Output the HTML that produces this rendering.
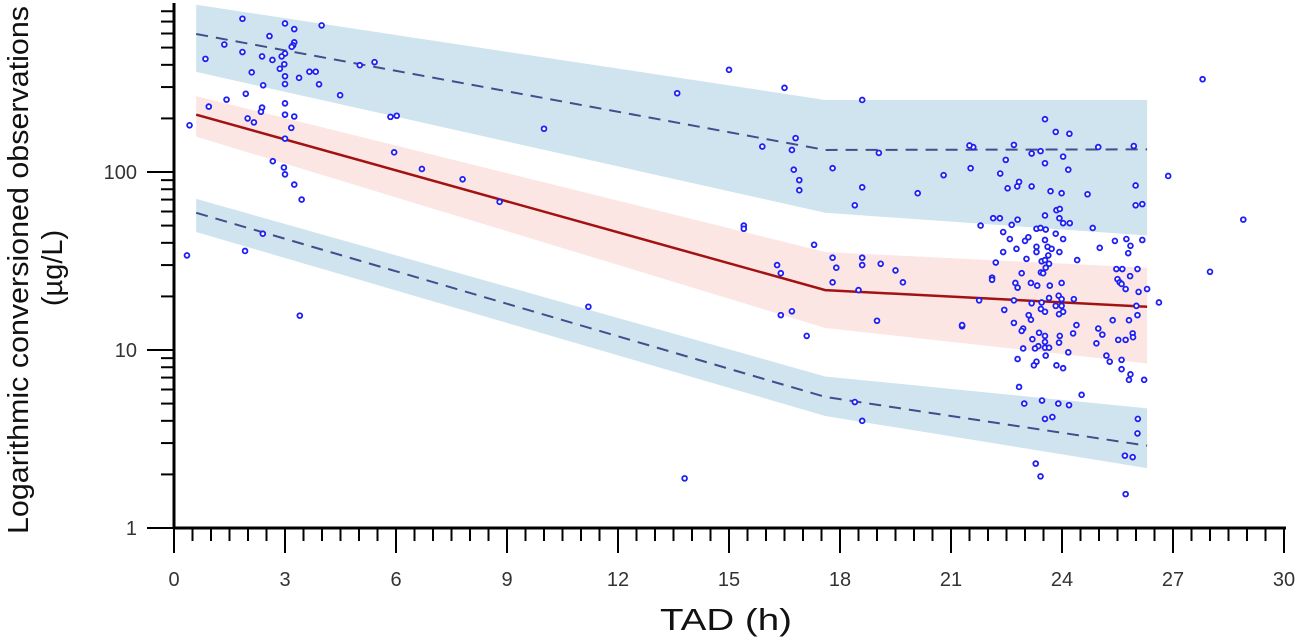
<!DOCTYPE html>
<html><head><meta charset="utf-8"><style>
html,body{margin:0;padding:0;background:#fff;}
svg{display:block;font-family:"Liberation Sans",sans-serif;}
</style></head><body>
<svg id="chart" width="1301" height="640"></svg>
<script>
const knotTimes=[0.6,17.6,26.3];
const upperPiHi=[870,254,254];
const upperPiMid=[596,133,134];
const upperPiLo=[365,59,44];
const medHi=[267,35.5,29];
const medMid=[210,21.7,17.5];
const medLo=[158,13.3,8.4];
const lowerPiHi=[70.6,7.1,4.7];
const lowerPiMid=[59,5.45,2.9];
const lowerPiLo=[46,4.26,2.17];
const xTicks=[0,3,6,9,12,15,18,21,24,27,30];
const yTicks=[1,10,100];
const obsTime=[23.54,23.83,24.2,21.6,22.7,23.42,24.03,24.98,25.94,22.48,23.18,23.54,24.17,21.53,22.33,22.84,22.79,22.53,23.18,23.69,23.99,24.69,25.99,25.99,26.17,23.85,23.94,22.14,22.32,22.8,23.54,23.93,24.03,24.21,22.64,24.83,23.31,23.42,23.56,22.41,23.83,23.09,23,23.54,24.03,22.59,25.43,25.74,26.17,25.85,23.31,23.61,23.72,22.77,25.02,22.41,23.31,23.93,25.79,23.63,23.45,23.54,23.04,22.21,24.41,23.65,23.56,23.43,23.49,25.47,25.63,26.04,22.91,22.11,22.11,25.5,25.84,25.56,22.74,23.16,23.99,25.61,23.33,23.67,22.8,25.72,26.07,26.3,23.91,23.65,21.76,22.7,23.99,24.32,23.18,23.45,23.83,23.99,26.01,22.44,23.43,23.54,24.03,23.92,26.04,23.1,23.16,21.3,22.7,25.37,25.81,24.39,22.95,22.91,23.38,24.98,25.09,24.3,25.91,23.54,23.2,23.94,23.92,23.54,25.52,25.72,25.92,24.93,23.36,23.27,22.95,23.54,23.65,24.17,23.56,25.2,22.8,25.29,25.61,23.31,23.24,23.85,24.03,25.61,25.85,25.81,26.22,22.84,24.53,22.98,23.46,23.9,24.19,23.54,23.74,26.05,26.04,25.7,25.91,23.29,23.42,25.72,26.87,26.62,
1.85,3.0,3.25,3.99,2.58,1.36,3.25,3.22,3.18,1.85,2.38,3.0,2.91,2.66,0.85,2.98,2.86,2.1,3.66,3.83,3.0,3.38,3.0,2.41,3.92,4.49,1.94,1.42,0.94,2.38,2.35,3.0,3.0,3.25,1.99,2.16,0.42,3.17,3.0,2.67,2.97,3.0,3.25,3.45,5.02,5.42,5.85,6.02,5.95,0.35,2.4,1.92,3.4,
6.7,7.8,8.8,10.0,11.2,13.6,13.8,15.0,15.9,15.4,15.4,16.5,16.3,16.4,16.4,16.7,16.8,16.7,16.75,16.9,16.9,17.1,17.3,17.8,17.8,17.9,17.8,18.6,18.6,18.4,18.6,18.6,18.5,18.4,18.6,19.0,19.05,19.1,19.5,19.7,20.1,20.8,21.3,21.5,21.8,28.0,27.8,28.9];
const obsConc=[198,168,164,138,142,131,122,138,140,117,127,112,103,105,98,88,83,81,83,78,76,75,84,65,66,61,62,55,55,54,57,55,51.6,51.6,50.5,48.5,48,48.5,47.5,46,45,43,41,41.5,42,42,41,42,41.5,38.5,38,38,37,37,37.5,35.5,35.5,35.5,35,34,31.5,32,32.5,31,32,30.5,29,27.3,27,28.5,28.5,28.5,27,25.5,24.8,25,26,24,23.8,23.8,23.8,23.5,23,23,22.4,22,21.2,22,20.2,19.6,19,19,19.3,19.3,18.3,18.5,17.7,17.7,17.7,16.8,17,16.4,16.4,15.9,15.7,15.7,14.8,13.6,14.2,14.7,14.7,13.8,13.2,12.8,12.5,13.2,12.2,12.4,12.4,12,11.5,12,11,11.1,11.4,11.4,11.8,10.9,10.5,10.2,10.2,10.3,10.3,9.7,9.3,9.3,8.9,8.6,8.8,8.6,8.2,8.2,7.9,7.8,7.3,6.8,6.8,6.2,5.6,5.0,5.2,5.0,4.9,4.1,4.2,4.1,3.4,2.55,2.5,2.3,1.95,1.55,95,18.5,
726,683,635,666,580,520,535,515,505,472,446,463,446,426,432,403,380,363,366,366,345,338,312,307,311,270,275,255,233,230,218,243,210,205,200,190,183,177,154,115,106,97,85,70,398,414,204,207,129,34,45,36,15.6,
104,91,68,175,17.5,277,1.9,375,139,50,48,297,30,27,15.7,16.5,155,133,103,90,79,12,39,105,33,29,24,254,82,65,33,30,21.7,5.1,4.0,14.6,128,30.5,28,24,76,96,13.8,141,50,27.5,332,54];

const NS='http://www.w3.org/2000/svg';
const svg=document.getElementById('chart');
const X0=174,XS=37,Y1=528,DEC=178,YTOP=3;
const sx=t=>X0+t*XS;
const sy=v=>Y1-Math.log10(v)*DEC;
function mk(tag,attrs,parent){const e=document.createElementNS(NS,tag);for(const k in attrs)e.setAttribute(k,attrs[k]);(parent||svg).appendChild(e);return e;}
function band(hi,lo,fill,name){
  let d='M'+knotTimes.map((t,i)=>sx(t)+','+sy(hi[i])).join(' L');
  d+=' L'+knotTimes.map((t,i)=>sx(t)+','+sy(lo[i])).reverse().join(' L')+' Z';
  const p=mk('path',{d:d,fill:fill});
  
  
}
function line(vals,color,w,dash,name){
  const p=mk('polyline',{points:knotTimes.map((t,i)=>sx(t)+','+sy(vals[i])).join(' '),fill:'none',stroke:color,'stroke-width':w});
  if(dash)p.setAttribute('stroke-dasharray',dash);
  
  
}
band(upperPiHi,upperPiLo,'#cfe4ee','upper-percentile-ci-band');
band(medHi,medLo,'#fbe6e4','median-ci-band');
band(lowerPiHi,lowerPiLo,'#cfe4ee','lower-percentile-ci-band');
line(upperPiMid,'#3f4e8c',2,'12,8','upper-percentile-line');
line(lowerPiMid,'#3f4e8c',2,'12,8','lower-percentile-line');
line(medMid,'#a31212',2.5,null,'median-line');
for(let i=0;i<obsTime.length;i++){
  const c=mk('circle',{cx:sx(obsTime[i]),cy:sy(obsConc[i]),r:2.4,fill:'#fff',stroke:'#1e1ef5','stroke-width':1.8});
  
  
}
const ya=mk('line',{x1:X0,y1:YTOP,x2:X0,y2:Y1+1,stroke:'#000','stroke-width':3});


const xa=mk('line',{x1:X0-1,y1:Y1,x2:1286,y2:Y1,stroke:'#000','stroke-width':3});


for(let d=0;d<3;d++){for(let m=2;m<=9;m++){const v=m*Math.pow(10,d);const y=sy(v);if(y<YTOP)continue;
  const t=mk('line',{x1:X0-13,y1:y,x2:X0,y2:y,stroke:'#000','stroke-width':2});
  
  }}
yTicks.forEach(v=>{const y=sy(v);
  const t=mk('line',{x1:X0-27,y1:y,x2:X0,y2:y,stroke:'#000','stroke-width':2});
  
  
  const l=mk('text',{x:X0-37,y:y+7,'text-anchor':'end','font-size':20,fill:'#333'});l.textContent=v;
  
  });
for(let k=1;k<60;k++){if(k%6===0)continue;const x=sx(k*0.5);
  const t=mk('line',{x1:x,y1:Y1,x2:x,y2:Y1+13,stroke:'#000','stroke-width':2});
  
  }
xTicks.forEach(v=>{const x=sx(v);
  const t=mk('line',{x1:x,y1:Y1,x2:x,y2:Y1+25,stroke:'#000','stroke-width':2});
  
  
  const l=mk('text',{x:x,y:586,'text-anchor':'middle','font-size':20,fill:'#333'});l.textContent=v;
  
  });
const xt=mk('text',{x:726,y:630,'text-anchor':'middle','font-size':31,fill:'#111',textLength:132,lengthAdjust:'spacingAndGlyphs'});xt.textContent='TAD (h)';


const yt=mk('text',{transform:'translate(28,270) rotate(-90)','text-anchor':'middle','font-size':29,fill:'#111',textLength:528,lengthAdjust:'spacingAndGlyphs'});yt.textContent='Logarithmic conversioned observations';


const yu=mk('text',{transform:'translate(62,268) rotate(-90)','text-anchor':'middle','font-size':29,fill:'#111'});yu.textContent='(µg/L)';


</script>
</body></html>
